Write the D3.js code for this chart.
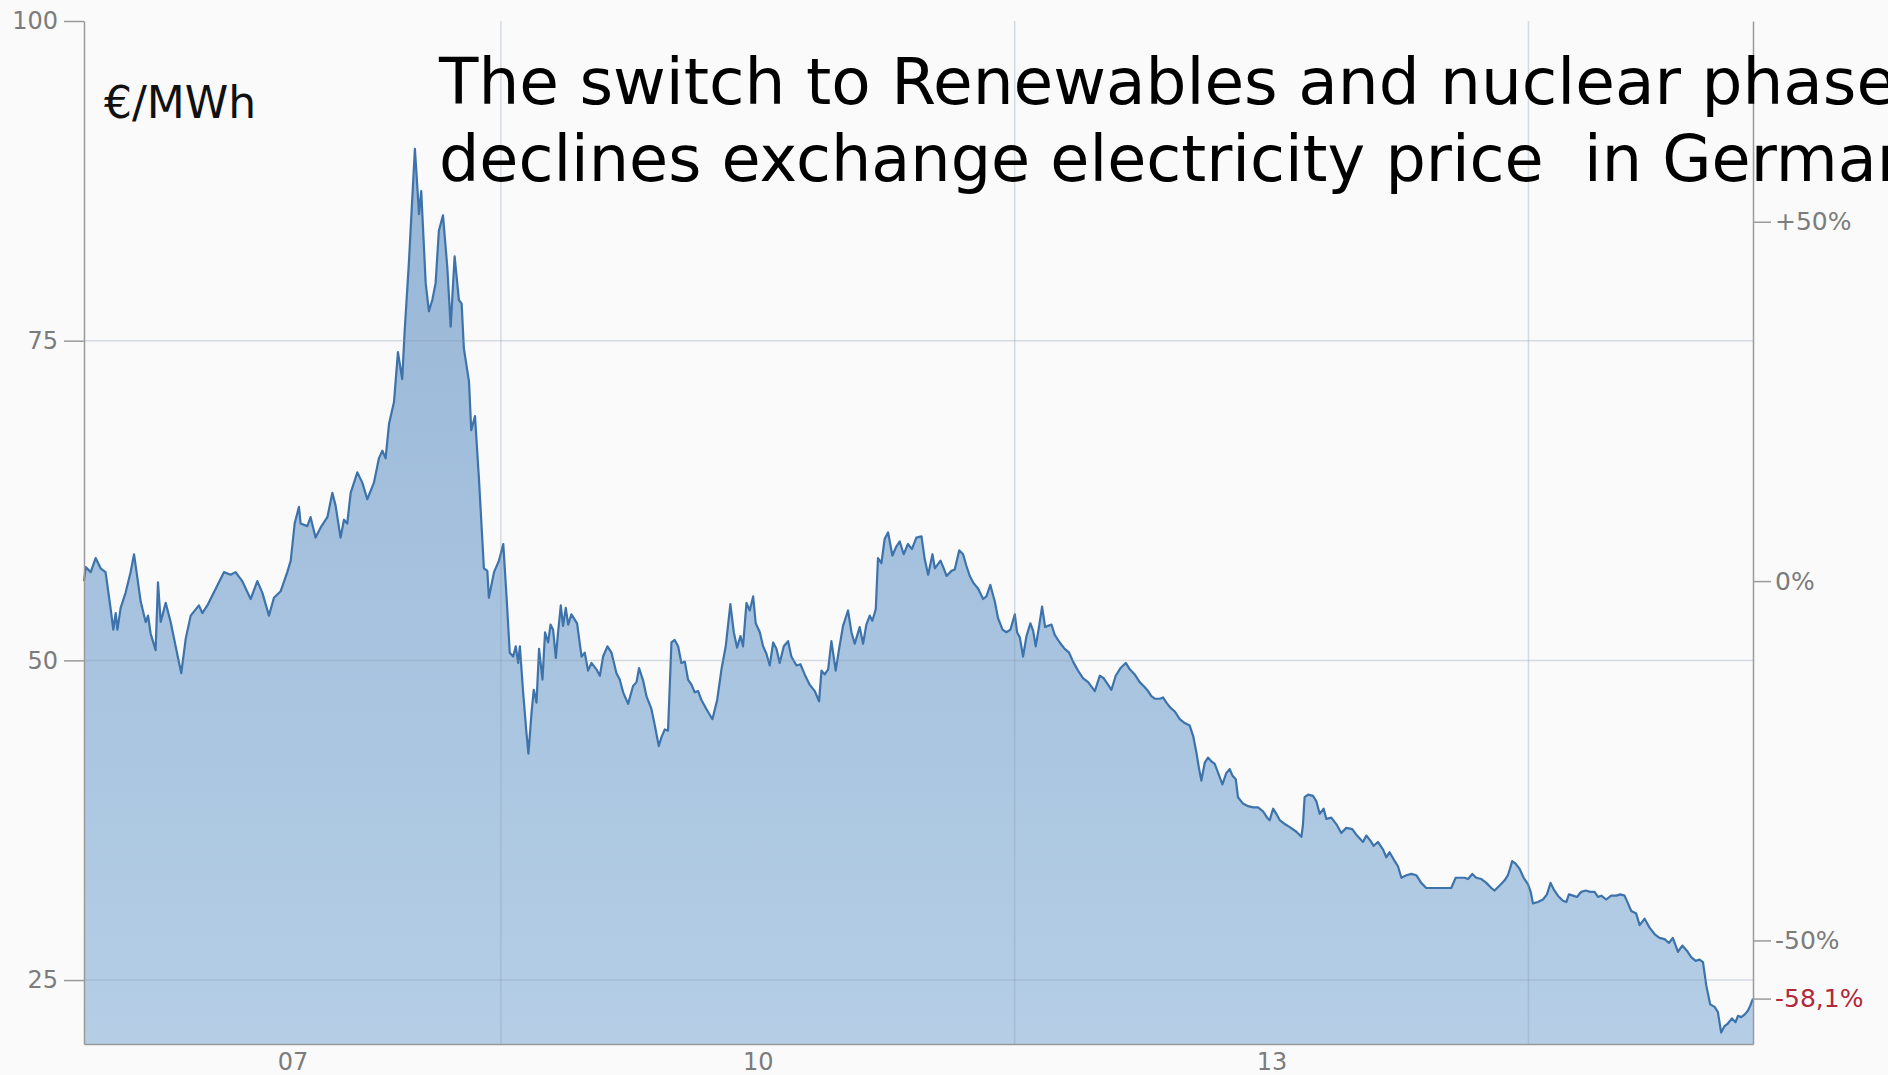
<!DOCTYPE html>
<html>
<head>
<meta charset="utf-8">
<script src="https://cdn.jsdelivr.net/npm/d3@7"></script>
<style>
  html, body { margin: 0; padding: 0; background: #fafafa; }
  svg { display: block; font-family: "DejaVu Sans", Verdana, sans-serif; }
  .axis path, .axis line { stroke: #9a9a9a; stroke-width: 1.5; }
  .axis text { fill: #7c7c7c; font-size: 24px; font-family: "DejaVu Sans", Verdana, sans-serif; }
  .axis.right text { font-size: 25px; }
</style>
</head>
<body>
<div id="chart"></div>
<script>
// exchange price (year-ahead base), €/MWh, time as decimal years
var years = [
  2006.566, 2006.576, 2006.605, 2006.634, 2006.663, 2006.692, 2006.722, 2006.737, 2006.751, 2006.761,
  2006.780, 2006.809, 2006.838, 2006.858, 2006.873, 2006.897, 2006.926, 2006.940, 2006.955, 2006.984,
  2006.998, 2007.014, 2007.043, 2007.072, 2007.101, 2007.134, 2007.160, 2007.189, 2007.237, 2007.257,
  2007.286, 2007.335, 2007.383, 2007.422, 2007.451, 2007.490, 2007.539, 2007.578, 2007.607, 2007.646,
  2007.675, 2007.714, 2007.753, 2007.773, 2007.796, 2007.821, 2007.831, 2007.870, 2007.889, 2007.918,
  2007.948, 2007.987, 2008.016, 2008.035, 2008.064, 2008.084, 2008.103, 2008.123, 2008.162, 2008.191,
  2008.220, 2008.259, 2008.288, 2008.308, 2008.327, 2008.347, 2008.376, 2008.399, 2008.424, 2008.438,
  2008.463, 2008.498, 2008.512, 2008.522, 2008.535, 2008.561, 2008.580, 2008.600, 2008.619, 2008.638,
  2008.662, 2008.687, 2008.707, 2008.730, 2008.755, 2008.771, 2008.784, 2008.814, 2008.827, 2008.849,
  2008.872, 2008.901, 2008.921, 2008.930, 2008.960, 2008.989, 2009.014, 2009.033, 2009.052, 2009.072,
  2009.087, 2009.101, 2009.111, 2009.130, 2009.149, 2009.161, 2009.179, 2009.192, 2009.208, 2009.223,
  2009.243, 2009.258, 2009.276, 2009.290, 2009.305, 2009.321, 2009.334, 2009.350, 2009.363, 2009.379,
  2009.393, 2009.412, 2009.445, 2009.471, 2009.490, 2009.509, 2009.529, 2009.558, 2009.578, 2009.597,
  2009.622, 2009.646, 2009.675, 2009.694, 2009.714, 2009.743, 2009.772, 2009.792, 2009.807, 2009.831,
  2009.850, 2009.879, 2009.899, 2009.922, 2009.938, 2009.957, 2009.976, 2009.996, 2010.015, 2010.035,
  2010.054, 2010.074, 2010.093, 2010.113, 2010.132, 2010.152, 2010.171, 2010.200, 2010.235, 2010.263,
  2010.288, 2010.313, 2010.340, 2010.360, 2010.379, 2010.399, 2010.414, 2010.434, 2010.453, 2010.473,
  2010.488, 2010.512, 2010.531, 2010.551, 2010.570, 2010.590, 2010.609, 2010.628, 2010.652, 2010.677,
  2010.696, 2010.726, 2010.749, 2010.774, 2010.803, 2010.833, 2010.858, 2010.872, 2010.891, 2010.911,
  2010.930, 2010.955, 2010.975, 2010.998, 2011.027, 2011.047, 2011.066, 2011.095, 2011.115, 2011.134,
  2011.154, 2011.169, 2011.189, 2011.202, 2011.222, 2011.241, 2011.261, 2011.286, 2011.309, 2011.329,
  2011.352, 2011.377, 2011.400, 2011.426, 2011.456, 2011.475, 2011.495, 2011.520, 2011.534, 2011.567,
  2011.586, 2011.602, 2011.631, 2011.650, 2011.676, 2011.699, 2011.718, 2011.738, 2011.757, 2011.787,
  2011.816, 2011.835, 2011.858, 2011.884, 2011.903, 2011.929, 2011.952, 2011.975, 2012.001, 2012.014,
  2012.030, 2012.049, 2012.069, 2012.092, 2012.108, 2012.123, 2012.143, 2012.160, 2012.178, 2012.195,
  2012.215, 2012.234, 2012.263, 2012.292, 2012.318, 2012.341, 2012.370, 2012.400, 2012.429, 2012.468,
  2012.497, 2012.520, 2012.545, 2012.565, 2012.590, 2012.618, 2012.649, 2012.672, 2012.701, 2012.730,
  2012.760, 2012.779, 2012.798, 2012.818, 2012.847, 2012.866, 2012.886, 2012.909, 2012.935, 2012.964,
  2012.993, 2013.022, 2013.042, 2013.061, 2013.077, 2013.090, 2013.110, 2013.129, 2013.149, 2013.168,
  2013.188, 2013.213, 2013.236, 2013.256, 2013.271, 2013.291, 2013.304, 2013.333, 2013.363, 2013.392,
  2013.421, 2013.450, 2013.474, 2013.489, 2013.509, 2013.528, 2013.548, 2013.577, 2013.602, 2013.645,
  2013.674, 2013.683, 2013.693, 2013.713, 2013.742, 2013.761, 2013.781, 2013.804, 2013.820, 2013.849,
  2013.878, 2013.907, 2013.936, 2013.971, 2013.999, 2014.034, 2014.053, 2014.077, 2014.096, 2014.121,
  2014.151, 2014.170, 2014.189, 2014.219, 2014.238, 2014.258, 2014.287, 2014.316, 2014.345, 2014.374,
  2014.403, 2014.442, 2014.481, 2014.520, 2014.549, 2014.575, 2014.598, 2014.627, 2014.647, 2014.672,
  2014.695, 2014.725, 2014.754, 2014.783, 2014.802, 2014.832, 2014.861, 2014.880, 2014.894, 2014.905,
  2014.925, 2014.948, 2014.972, 2014.997, 2015.013, 2015.026, 2015.055, 2015.085, 2015.108, 2015.129,
  2015.147, 2015.172, 2015.201, 2015.221, 2015.236, 2015.260, 2015.283, 2015.308, 2015.334, 2015.361,
  2015.386, 2015.406, 2015.425, 2015.454, 2015.483, 2015.513, 2015.536, 2015.561, 2015.581, 2015.600,
  2015.629, 2015.649, 2015.678, 2015.707, 2015.736, 2015.765, 2015.795, 2015.820, 2015.843, 2015.873,
  2015.898, 2015.925, 2015.950, 2015.976, 2015.999, 2016.019, 2016.038, 2016.061, 2016.087, 2016.106,
  2016.125, 2016.145, 2016.164, 2016.188, 2016.209, 2016.223, 2016.242, 2016.262, 2016.281, 2016.295,
  2016.311
];
var prices = [
  56.2, 57.3, 56.9, 58.0, 57.2, 56.9, 54.0, 52.4, 53.7, 52.4,
  54.1, 55.3, 56.9, 58.3, 56.9, 54.6, 53.0, 53.5, 52.1, 50.8,
  56.1, 53.0, 54.5, 53.0, 51.1, 49.0, 51.7, 53.5, 54.3, 53.7,
  54.3, 55.6, 56.9, 56.7, 56.9, 56.2, 54.8, 56.2, 55.3, 53.5,
  54.9, 55.4, 56.9, 57.8, 60.7, 62.0, 60.7, 60.5, 61.2, 59.6,
  60.4, 61.2, 63.1, 62.1, 59.6, 61.0, 60.7, 63.1, 64.7, 63.9,
  62.6, 63.9, 65.8, 66.4, 65.8, 68.5, 70.2, 74.1, 72.0, 75.7,
  81.1, 90.0, 87.1, 84.9, 86.7, 79.5, 77.3, 78.2, 79.5, 83.6,
  84.8, 80.8, 76.1, 81.6, 78.2, 77.9, 74.4, 71.8, 68.0, 69.1,
  64.2, 57.2, 57.0, 54.9, 56.9, 57.8, 59.1, 55.0, 50.6, 50.3,
  51.1, 49.8, 51.1, 47.5, 44.4, 42.7, 45.9, 47.7, 46.7, 50.9,
  48.5, 52.2, 51.4, 52.8, 52.4, 50.2, 52.2, 54.3, 52.7, 54.1,
  52.8, 53.6, 52.9, 50.3, 50.6, 49.2, 49.8, 49.3, 48.8, 50.3,
  51.1, 50.6, 49.0, 48.5, 47.5, 46.6, 48.0, 48.3, 49.4, 48.4,
  47.2, 46.2, 44.9, 43.3, 44.0, 44.6, 44.5, 51.4, 51.6, 51.1,
  49.8, 49.9, 48.5, 48.1, 47.5, 47.6, 46.9, 46.2, 45.4, 46.9,
  49.3, 51.1, 54.4, 52.2, 51.0, 51.9, 51.1, 54.5, 53.9, 55.0,
  52.9, 52.2, 51.1, 50.5, 49.6, 51.4, 50.9, 49.8, 51.1, 51.5,
  50.3, 49.6, 49.7, 48.9, 48.1, 47.6, 46.8, 49.2, 48.9, 49.3,
  51.5, 49.2, 50.9, 52.7, 53.9, 52.2, 51.3, 52.6, 51.3, 52.8,
  53.5, 53.1, 54.0, 58.0, 57.6, 59.5, 60.0, 58.2, 58.9, 59.3,
  58.3, 59.1, 58.7, 59.6, 59.7, 57.9, 56.7, 58.3, 57.2, 57.8,
  57.2, 56.6, 57.0, 57.1, 58.6, 58.3, 57.4, 56.6, 56.1, 55.6,
  54.8, 55.0, 55.9, 54.6, 53.3, 52.4, 52.2, 52.4, 53.6, 52.2,
  51.8, 50.3, 51.9, 52.9, 52.3, 51.1, 52.7, 54.2, 52.6, 52.7,
  52.8, 52.0, 51.4, 50.9, 50.6, 49.9, 49.2, 48.6, 48.3, 47.6,
  48.8, 48.6, 48.1, 47.7, 48.8, 49.4, 49.8, 49.3, 48.9, 48.3,
  47.9, 47.6, 47.2, 47.0, 47.0, 47.1, 46.7, 46.3, 46.0, 45.4,
  45.1, 44.9, 44.1, 42.8, 41.5, 40.6, 42.0, 42.4, 42.1, 41.9,
  41.2, 40.3, 41.2, 41.5, 41.0, 40.7, 39.3, 38.8, 38.6, 38.5,
  38.5, 38.2, 37.7, 37.5, 38.4, 38.0, 37.5, 37.2, 37.0, 36.6,
  36.2, 37.1, 39.3, 39.5, 39.4, 39.0, 38.0, 38.4, 37.6, 37.7,
  37.2, 36.5, 36.9, 36.8, 36.3, 35.8, 36.3, 35.9, 35.5, 35.8,
  35.2, 34.6, 35.0, 34.3, 33.9, 33.0, 33.2, 33.3, 33.2, 32.6,
  32.2, 32.2, 32.2, 32.2, 32.2, 33.0, 33.0, 33.0, 32.9, 33.3,
  33.0, 32.9, 32.6, 32.2, 32.0, 32.4, 32.8, 33.2, 33.8, 34.3,
  34.1, 33.7, 33.0, 32.5, 31.9, 31.0, 31.1, 31.3, 31.7, 32.6,
  32.1, 31.6, 31.2, 31.1, 31.7, 31.6, 31.5, 31.9, 32.0, 31.9,
  31.9, 31.5, 31.6, 31.3, 31.6, 31.6, 31.7, 31.6, 31.0, 30.4,
  30.2, 29.3, 29.8, 29.1, 28.6, 28.3, 28.2, 27.9, 28.3, 27.2,
  27.7, 27.3, 26.8, 26.5, 26.6, 26.4, 24.6, 23.1, 22.9, 22.5,
  20.9, 21.4, 21.6, 22.0, 21.7, 22.2, 22.1, 22.3, 22.6, 23.0,
  23.55
];

var yTicks = [25, 50, 75, 100];
var pctTicks = [50, 0, -50];
var gridYears = [2009, 2012, 2015];
var xTickLabels = ["07", "10", "13"];
var unitLabel = "€/MWh";
var titleLines = ["The switch to Renewables and nuclear phase", "declines exchange electricity price  in Germany"];
var titleSizes = [64.5, 63.6];

var data = years.map(function(y, i) { return { t: y, v: prices[i] }; });

var svgWidth = 1888;
var svgHeight = 1075;
var margin = { top: 21, right: 135, bottom: 31, left: 84 };
var chartWidth = svgWidth - margin.left - margin.right;
var chartHeight = svgHeight - margin.top - margin.bottom;

var svg = d3.select("#chart").append("svg")
    .attr("width", svgWidth)
    .attr("height", svgHeight);

var defs = svg.append("defs");
var grad = defs.append("linearGradient")
    .attr("id", "areaFill")
    .attr("x1", 0).attr("y1", 0).attr("x2", 0).attr("y2", 1);
grad.append("stop").attr("offset", "0%").attr("stop-color", "#97b6d6");
grad.append("stop").attr("offset", "100%").attr("stop-color", "#b5cee6");

var g = svg.append("g").attr("transform", "translate(" + margin.left + "," + margin.top + ")");

// scales
var x = d3.scaleLinear().domain(d3.extent(years)).range([0, chartWidth]);
var y = d3.scaleLinear().domain([20, 100]).range([chartHeight, 0]);

// right axis: change vs first value, in %
var first = prices[0];
var last = prices[prices.length - 1];
var pct = d3.scaleLinear()
    .domain(y.domain().map(function(v) { return (v / first - 1) * 100; }))
    .range(y.range());

var de = d3.formatLocale({ decimal: ",", thousands: ".", grouping: [3], currency: ["", " €"], minus: "-" });

// area + line
var area = d3.area()
    .x(function(d) { return x(d.t); })
    .y0(chartHeight)
    .y1(function(d) { return y(d.v); });
var line = d3.line()
    .x(function(d) { return x(d.t); })
    .y(function(d) { return y(d.v); });

g.append("path").datum(data)
    .attr("d", area)
    .attr("fill", "url(#areaFill)");

g.append("path").datum(data)
    .attr("d", line)
    .attr("fill", "none")
    .attr("stroke", "#3d73aa")
    .attr("stroke-width", 2.2)
    .attr("stroke-linejoin", "round");

// grid (drawn over the area, semi transparent)
g.append("g").selectAll("line").data(yTicks.filter(function(d) { return d < 100; })).enter().append("line")
    .attr("x1", 0).attr("x2", chartWidth)
    .attr("y1", function(d) { return y(d); }).attr("y2", function(d) { return y(d); })
    .attr("stroke", "#8597ad").attr("stroke-opacity", 0.32).attr("stroke-width", 1.5);

g.append("g").selectAll("line").data(gridYears).enter().append("line")
    .attr("x1", function(d) { return x(d); }).attr("x2", function(d) { return x(d); })
    .attr("y1", 0).attr("y2", chartHeight)
    .attr("stroke", "#8597ad").attr("stroke-opacity", 0.32).attr("stroke-width", 1.5);

// left axis
g.append("g").attr("class", "axis")
    .call(d3.axisLeft(y).tickValues(yTicks).tickSize(20).tickSizeOuter(0).tickPadding(6));

// bottom axis, labels centred between the grid lines
var bounds = [x.domain()[0]].concat(gridYears);
var labelYears = xTickLabels.map(function(l, i) { return (bounds[i] + bounds[i + 1]) / 2; });
g.append("g").attr("class", "axis")
    .attr("transform", "translate(0," + chartHeight + ")")
    .call(d3.axisBottom(x).tickValues(labelYears).tickSize(0).tickSizeOuter(0).tickPadding(9)
        .tickFormat(function(d, i) { return xTickLabels[i]; }));

// right axis
g.append("g").attr("class", "axis right")
    .attr("transform", "translate(" + chartWidth + ",0)")
    .call(d3.axisRight(pct).tickValues(pctTicks).tickSize(18).tickSizeOuter(0).tickPadding(4)
        .tickFormat(function(d) { return (d > 0 ? "+" : "") + d + "%"; }));

var lastPct = (last / first - 1) * 100;
var lastAxis = g.append("g").attr("class", "axis right")
    .attr("transform", "translate(" + chartWidth + ",0)")
    .call(d3.axisRight(pct).tickValues([lastPct]).tickSize(18).tickSizeOuter(0).tickPadding(4)
        .tickFormat(function(d) { return de.format(".1f")(d) + "%"; }));
lastAxis.select(".domain").remove();
lastAxis.selectAll("text").style("fill", "#b0283a");

// unit and title
svg.append("text")
    .attr("x", 104).attr("y", 118)
    .style("font-size", "44px").style("fill", "#111")
    .text(unitLabel);

svg.append("g").selectAll("text").data(titleLines).enter().append("text")
    .attr("x", 439)
    .attr("y", function(d, i) { return 104 + i * 77; })
    .attr("xml:space", "preserve")
    .style("white-space", "pre")
    .style("font-size", function(d, i) { return titleSizes[i] + "px"; })
    .style("fill", "#000")
    .text(function(d) { return d; });
</script>
</body>
</html>
